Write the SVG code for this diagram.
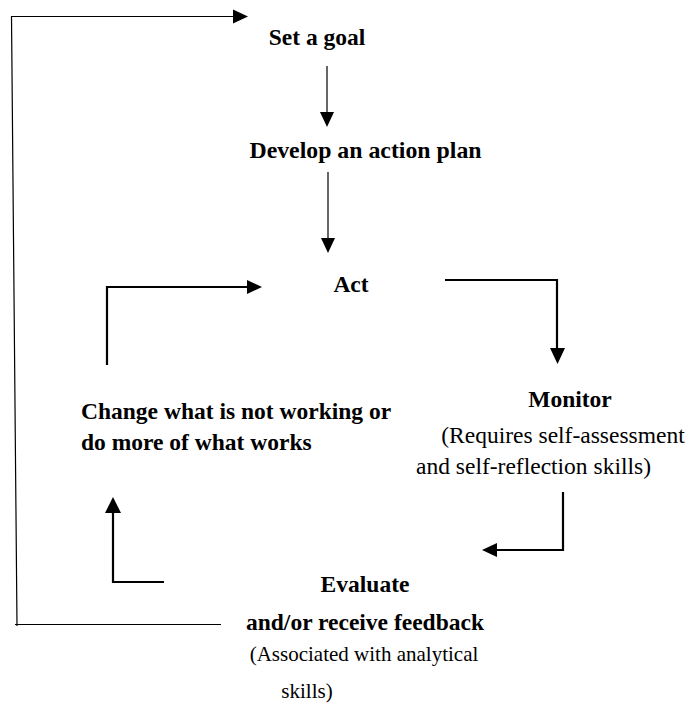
<svg xmlns="http://www.w3.org/2000/svg" width="699" height="707" viewBox="0 0 699 707">
  <style>
    .thin { fill: none; stroke: #000; stroke-width: 1.2; }
    .thick { fill: none; stroke: #000; stroke-width: 2.2; }
    .head { fill: #000; stroke: none; }
  </style>
  <rect width="699" height="707" fill="#fff"/>

  <g id="connectors">
    <!-- outer return loop: feedback back to goal setting -->
    <polyline class="thin" points="221,624.5 15,624.5"/>
    <polyline class="thin" points="17,626 11.5,16.5 234,16.5"/>
    <polygon class="head" points="233,9.5 248,16.5 233,23.5"/>

    <!-- goal -> plan -->
    <line class="thin" x1="327" y1="66" x2="327" y2="113"/>
    <polygon class="head" points="320,112 334,112 327,127"/>

    <!-- plan -> act -->
    <line class="thin" x1="328" y1="172" x2="328" y2="239"/>
    <polygon class="head" points="321,238 335,238 328,253"/>

    <!-- act -> monitor -->
    <polyline class="thick" points="445,280 557,280 557,349"/>
    <polygon class="head" points="550,348 565,348 557.5,364"/>

    <!-- monitor -> evaluate -->
    <polyline class="thick" points="563,492 563,550 496,550"/>
    <polygon class="head" points="497,543 497,557 482,550"/>

    <!-- evaluate -> change -->
    <polyline class="thick" points="164,582 113,582 113,512"/>
    <polygon class="head" points="105,513 121,513 113,497"/>

    <!-- change -> act -->
    <polyline class="thick" points="107,365 107,287 248,287"/>
    <polygon class="head" points="247,280 262,287 247,294"/>
  </g>

  <g id="goal">
    <text font-family="'Liberation Serif', serif" font-weight="bold" font-size="23.5" x="317" y="45" text-anchor="middle">Set a goal</text>
  </g>
  <g id="plan">
    <text font-family="'Liberation Serif', serif" font-weight="bold" font-size="23.8" x="365.5" y="158" text-anchor="middle">Develop an action plan</text>
  </g>
  <g id="act">
    <text font-family="'Liberation Serif', serif" font-weight="bold" font-size="23.5" x="351" y="292" text-anchor="middle">Act</text>
  </g>
  <g id="monitor">
    <text font-family="'Liberation Serif', serif" font-weight="bold" font-size="23.5" x="570" y="407" text-anchor="middle">Monitor</text>
    <text font-family="'Liberation Serif', serif" font-size="23.5" x="563" y="443" text-anchor="middle">(Requires self-assessment</text>
    <text font-family="'Liberation Serif', serif" font-size="23.5" x="533.5" y="474" text-anchor="middle">and self-reflection skills)</text>
  </g>
  <g id="evaluate">
    <text font-family="'Liberation Serif', serif" font-weight="bold" font-size="23.5" x="365" y="592" text-anchor="middle">Evaluate</text>
    <text font-family="'Liberation Serif', serif" font-weight="bold" font-size="23.5" x="365" y="630" text-anchor="middle">and/or receive feedback</text>
    <text font-family="'Liberation Serif', serif" font-size="21" x="364" y="661" text-anchor="middle">(Associated with analytical</text>
    <text font-family="'Liberation Serif', serif" font-size="21" x="307" y="698" text-anchor="middle">skills)</text>
  </g>
  <g id="change">
    <text font-family="'Liberation Serif', serif" font-weight="bold" font-size="23.5" x="81" y="419">Change what is not working or</text>
    <text font-family="'Liberation Serif', serif" font-weight="bold" font-size="23.5" x="81" y="450">do more of what works</text>
  </g>
</svg>
